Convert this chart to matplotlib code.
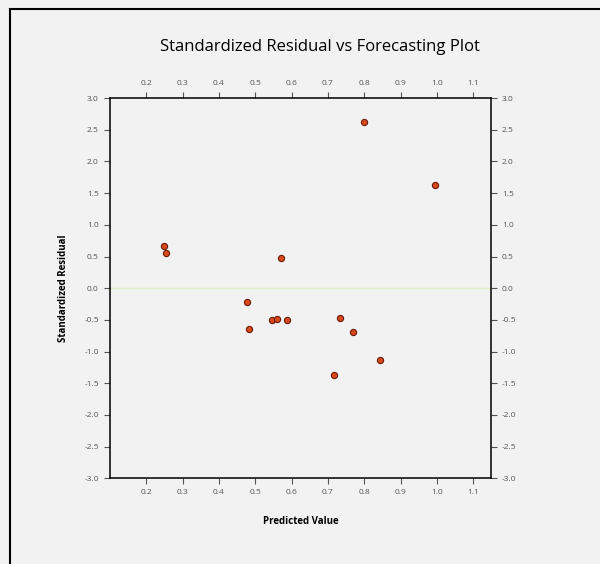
import matplotlib
matplotlib.use("Agg")
import matplotlib.pyplot as plt
from matplotlib.patches import Rectangle

# predicted value vs standardized residual
predicted = [0.798, 0.996, 0.250, 0.255, 0.571, 0.478, 0.547, 0.561, 0.588,
             0.483, 0.732, 0.770, 0.842, 0.718]
residual = [2.62, 1.63, 0.67, 0.55, 0.47, -0.22, -0.50, -0.48, -0.50,
            -0.65, -0.47, -0.69, -1.14, -1.37]

xticks = [0.2, 0.3, 0.4, 0.5, 0.6, 0.7, 0.8, 0.9, 1.0, 1.1]
yticks = [-3.0, -2.5, -2.0, -1.5, -1.0, -0.5, 0.0, 0.5, 1.0, 1.5, 2.0, 2.5, 3.0]

bg = "#f2f2f2"
plt.rcParams['font.family'] = ['Open Sans', 'DejaVu Sans']

fig = plt.figure(figsize=(6.0, 5.64), dpi=100, facecolor=bg)
# outer frame, running off the right and bottom edges
fig.patches.append(Rectangle((10/600, -0.1), 1.2, (564-9)/564 + 0.1,
                             transform=fig.transFigure, fill=False,
                             edgecolor="black", linewidth=1.5))

ax = fig.add_axes([0.1833, 0.152, 0.6345, 0.674])
ax.set_facecolor(bg)
ax.set_xlim(0.1, 1.148)
ax.set_ylim(-3.0, 3.0)

ax.axhline(0, color="#e2efc4", linewidth=1.0, zorder=1)
ax.scatter(predicted, residual, s=20, color="#d84a1e", edgecolors="#6a1a08",
           linewidths=0.8, zorder=3)

ax.set_xticks(xticks)
ax.set_yticks(yticks)
ax.set_xticklabels(["%.1f" % v for v in xticks])
ax.set_yticklabels(["%.1f" % v for v in yticks])
ax.tick_params(axis="both", which="both", direction="out", length=4, width=0.8,
               color="#555555", labelcolor="#555555", labelsize=6,
               top=True, right=True, labeltop=True, labelright=True, pad=4)
for s in ax.spines.values():
    s.set_linewidth(1.1)
    s.set_color("black")

ax.set_xlabel("Predicted Value", fontsize=7, fontweight="bold", labelpad=14)
ax.set_ylabel("Standardized Residual", fontsize=7, fontweight="bold", labelpad=11)
fig.text(0.533, 0.917, "Standardized Residual vs Forecasting Plot",
         ha="center", va="center", fontsize=12)

fig.savefig("out.png", dpi=100, facecolor=bg)
